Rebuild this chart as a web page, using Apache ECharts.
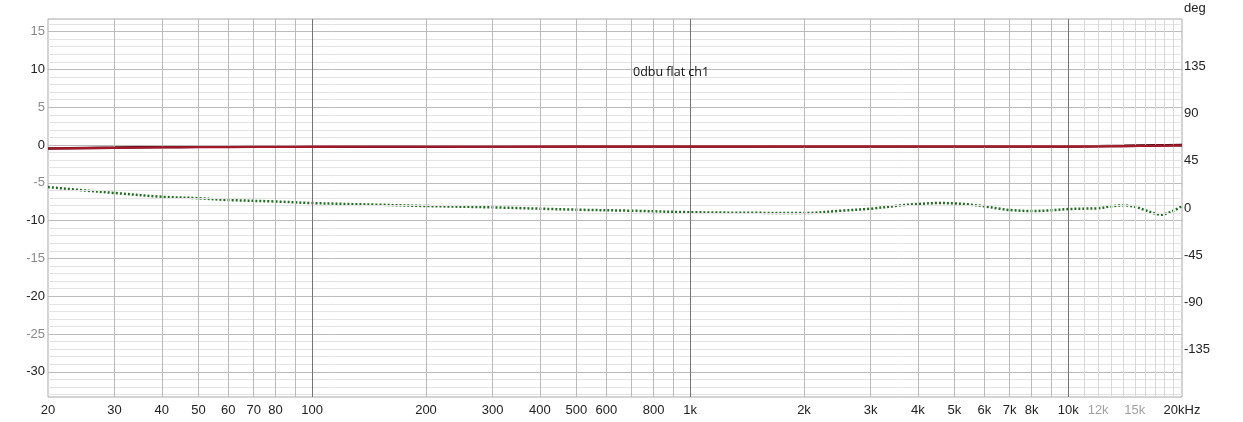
<!DOCTYPE html>
<html><head><meta charset="utf-8">
<script src="https://cdn.jsdelivr.net/npm/echarts@6/dist/echarts.min.js"></script>
<style>html,body{margin:0;padding:0;background:#fff}#c{width:1243px;height:422px}</style>
</head><body><div id="c"></div>
<script>
// ---- data ----
const chartTitle = '0dbu flat ch1';
const xTicks = [20,30,40,50,60,70,80,100,200,300,400,500,600,800,1000,2000,3000,4000,5000,6000,7000,8000,10000,12000,15000,20000];
const xTickLabels = ['20','30','40','50','60','70','80','100','200','300','400','500','600','800','1k','2k','3k','4k','5k','6k','7k','8k','10k','12k','15k','20kHz'];
const xFaintLabels = ['12k','15k'];
const vGridMedium = [30,40,50,60,70,80,90,200,300,400,500,600,700,800,900,2000,3000,4000,5000,6000,7000,8000,9000];
const vGridMajor = [100,1000,10000];
const vGridLight = [11000,12000,13000,14000,15000,16000,17000,18000,19000];
const dbTicks = [-30,-25,-20,-15,-10,-5,0,5,10,15];
const dbGrid = [-33,-32,-31,-30,-29,-28,-27,-26,-25,-24,-23,-22,-21,-20,-19,-18,-17,-16,-15,-14,-13,-12,-11,-10,-9,-8,-7,-6,-5,-4,-3,-2,-1,0,1,2,3,4,5,6,7,8,9,10,11,12,13,14,15,16];
const degTicks = [-135,-90,-45,0,45,90,135];

const magFreq  = [20,30,40,50,60,80,100,200,500,1000,2000,5000,10000,14000,17000,20000];
const magRed   = [-0.45,-0.38,-0.32,-0.29,-0.27,-0.25,-0.23,-0.21,-0.2,-0.2,-0.19,-0.18,-0.2,-0.15,-0.1,-0.05];
const magBlack = [-0.47,-0.35,-0.26,-0.24,-0.24,-0.23,-0.22,-0.21,-0.2,-0.2,-0.19,-0.18,-0.19,-0.11,-0.05,-0.01];

const phaseFreq = [20,25,30,40,50,60,80,100,150,200,300,500,700,1000,1500,2000,2500,3000,3600,4000,4500,5000,5400,6000,6600,7000,8000,9000,10000,11000,12000,13000,14000,15000,16000,17000,17500,18000,19000,20000];
const phaseDeg  = [20,16.7,14.3,10.7,9.3,7.6,6.2,4.7,3.1,1.9,0.6,-1.6,-2.6,-4.0,-4.6,-4.8,-2.6,-0.7,2.5,3.8,4.7,4.4,3.5,1.6,-0.7,-1.9,-2.9,-2.2,-1.0,-0.6,-0.3,1.6,2.5,1.2,-2.2,-5.4,-6.4,-5.7,-2.6,1.9];

// ---- build ----
const zip = (a, b) => a.map((v, i) => [v, b[i]]);
const lbl = v => {
  let best = 0, bd = Infinity;
  xTicks.forEach((t, i) => { const d = Math.abs(Math.log(v / t)); if (d < bd) { bd = d; best = i; } });
  const s = xTickLabels[best];
  return xFaintLabels.includes(s) ? '{g|' + s + '}' : s;
};
const gridLines = [];
dbGrid.forEach(v => gridLines.push({yAxis: v, lineStyle: {color: v % 5 === 0 ? '#bcbcbc' : '#e3e3e3', width: 1, type: 'solid'}}));
vGridLight.forEach(v => gridLines.push({xAxis: v, lineStyle: {color: '#d8d8d8', width: 1, type: 'solid'}}));
vGridMedium.forEach(v => gridLines.push({xAxis: v, lineStyle: {color: '#bababa', width: 1, type: 'solid'}}));
vGridMajor.forEach(v => gridLines.push({xAxis: v, lineStyle: {color: '#747474', width: 1, type: 'solid'}}));

const font = 'Liberation Sans, Arial, sans-serif';
const chart = echarts.init(document.getElementById('c'), null, {renderer: 'canvas'});
chart.setOption({
  animation: false,
  backgroundColor: '#fff',
  title: {
    text: chartTitle, left: 628, top: 61,
    textStyle: {fontFamily: 'Open Sans, Noto Sans, sans-serif', fontSize: 12.5, fontWeight: 'normal', color: '#111'}
  },
  grid: {left: 48, right: 61, top: 19, bottom: 25, show: true, borderColor: '#a8a8a8', borderWidth: 1, backgroundColor: 'transparent'},
  xAxis: {
    type: 'log', logBase: 10, min: 20, max: 20000,
    axisLine: {show: false}, axisTick: {show: false}, splitLine: {show: false}, minorSplitLine: {show: false},
    axisLabel: {
      customValues: xTicks, formatter: lbl, margin: 7, color: '#222', fontSize: 13, fontFamily: font,
      showMinLabel: true, showMaxLabel: true, hideOverlap: false,
      rich: {g: {color: '#a0a0a0', fontSize: 13, fontFamily: font}}
    }
  },
  yAxis: [
    {
      type: 'value', min: -100 / 3, max: 50 / 3, position: 'left',
      axisLine: {show: false}, axisTick: {show: false}, splitLine: {show: false},
      axisLabel: {
        customValues: dbTicks, margin: 3, fontSize: 13, fontFamily: font,
        formatter: v => (Math.round(v) % 10 === 0 ? '{b|' + Math.round(v) + '}' : '{g|' + Math.round(v) + '}'),
        rich: {b: {color: '#222', fontSize: 13, fontFamily: font}, g: {color: '#8a8a8a', fontSize: 13, fontFamily: font}}
      }
    },
    {
      type: 'value', min: -180, max: 180, position: 'right',
      name: 'deg', nameLocation: 'end', nameGap: 11,
      nameTextStyle: {align: 'left', verticalAlign: 'middle', color: '#222', fontSize: 13, fontFamily: font, padding: [0, 0, 0, 2]},
      axisLine: {show: false}, axisTick: {show: false}, splitLine: {show: false},
      axisLabel: {customValues: degTicks, margin: 2, color: '#222', fontSize: 13, fontFamily: font}
    }
  ],
  series: [
    {
      type: 'line', name: 'grid', z: 1, silent: true, yAxisIndex: 0,
      data: [[20, 0], [20000, 0]], showSymbol: false, lineStyle: {opacity: 0},
      markLine: {silent: true, symbol: ['none', 'none'], label: {show: false}, emphasis: {disabled: true}, animation: false, data: gridLines}
    },
    {
      type: 'line', name: 'phase', z: 3, yAxisIndex: 1, data: zip(phaseFreq, phaseDeg),
      showSymbol: false, smooth: 0.35, lineStyle: {color: '#1f6e1f', width: 2.5, type: [2, 2]}
    },
    {
      type: 'line', name: 'magBlack', z: 4, yAxisIndex: 0, data: zip(magFreq, magBlack),
      showSymbol: false, smooth: 0.3, lineStyle: {color: '#3a1010', width: 2.6}
    },
    {
      type: 'line', name: 'magRed', z: 5, yAxisIndex: 0, data: zip(magFreq, magRed),
      showSymbol: false, smooth: 0.3, lineStyle: {color: '#a3192b', width: 2.3}
    }
  ]
});
</script>
</body></html>
